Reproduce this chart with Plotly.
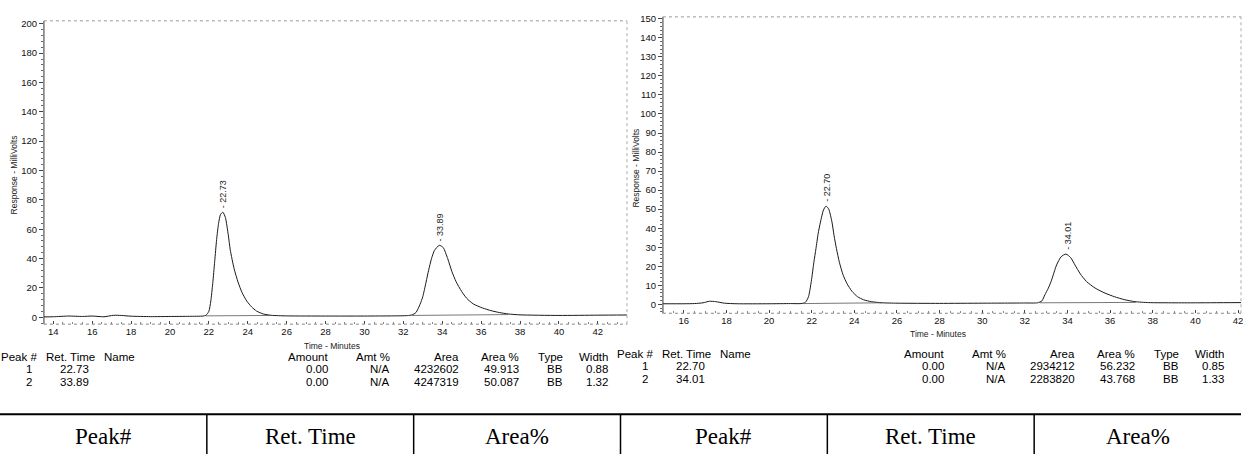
import plotly.graph_objects as go

W, H = 1243, 454

# ---------------- data: left chromatogram ----------------
left_time = [13.52, 14.0, 14.8, 15.5, 16.0, 16.6, 17.1, 17.5, 18.0, 19.0, 20.0, 21.0, 21.7,
             21.85, 22.0, 22.1, 22.2, 22.3, 22.4, 22.5, 22.6, 22.72, 22.85, 23.0, 23.1, 23.3,
             23.5, 23.7, 23.95, 24.2, 24.45, 24.8, 25.2, 26.0, 28.0, 30.0, 31.5, 32.2,
             32.45, 32.65, 32.86, 33.0, 33.17, 33.3, 33.45, 33.6, 33.85, 34.05, 34.28, 34.5,
             34.71, 35.0, 35.25, 35.6, 36.07, 36.5, 36.93, 37.4, 38.0, 40.0, 42.0, 43.5]
left_mv = [0.2, 0.3, 0.8, 0.5, 0.8, 0.3, 1.3, 1.2, 0.7, 0.4, 0.5, 0.6, 0.8,
           1.3, 4.0, 11.0, 23.0, 38.0, 53.0, 64.0, 70.0, 71.6, 68.0, 56.0, 46.0, 33.0,
           24.0, 17.0, 11.0, 7.0, 4.2, 2.2, 1.3, 0.9, 0.8, 0.8, 0.9, 1.1,
           1.6, 3.2, 8.8, 14.0, 24.0, 32.0, 40.0, 45.5, 49.0, 47.5, 40.0, 31.0,
           24.3, 17.5, 13.0, 9.0, 6.3, 4.5, 3.2, 2.2, 1.6, 1.2, 1.4, 1.5]
left_base_time = [[21.85, 25.2], [32.45, 37.4]]
left_base_mv = [[0.9, 1.2], [1.2, 1.8]]
left_peak_rt = [22.73, 33.89]
left_peak_h = [71.6, 49.0]
left_peak_label = ["22.73", "33.89"]

# ---------------- data: right chromatogram ----------------
right_time = [15.02, 16.0, 16.5, 16.9, 17.2, 17.5, 17.9, 18.5, 20.0, 21.0, 21.5,
              21.7, 21.85, 21.98, 22.1, 22.2, 22.3, 22.41, 22.55, 22.67, 22.8, 22.95, 23.05,
              23.16, 23.3, 23.47, 23.65, 23.89, 24.15, 24.43, 24.8, 25.3, 26.0, 28.0, 30.0,
              32.0, 32.6, 32.8, 32.94, 33.1, 33.23, 33.49, 33.7, 33.93, 34.15, 34.35, 34.6,
              34.89, 35.3, 35.76, 36.2, 36.69, 37.16, 37.8, 39.0, 40.0, 42.14]
right_mv = [0.3, 0.3, 0.4, 0.8, 1.6, 1.4, 0.6, 0.3, 0.3, 0.4, 0.4,
            1.0, 4.0, 12.0, 22.0, 29.3, 37.0, 43.2, 49.5, 51.6, 50.0, 43.2, 36.0,
            29.3, 22.0, 15.5, 11.0, 6.8, 4.0, 2.4, 1.4, 0.8, 0.6, 0.5, 0.6,
            0.7, 0.8, 1.8, 5.0, 8.5, 12.0, 20.7, 25.0, 26.4, 24.5, 20.7, 16.0,
            12.0, 8.5, 5.9, 4.0, 2.4, 1.4, 0.9, 0.8, 0.8, 0.9]
right_base_time = [[21.6, 25.3], [32.7, 37.2]]
right_base_mv = [[0.4, 0.8], [0.8, 1.0]]
right_peak_rt = [22.70, 34.01]
right_peak_h = [51.6, 26.4]
right_peak_label = ["22.70", "34.01"]

# ---------------- data: report tables ----------------
tbl_headers = ["Peak #", "Ret. Time", "Name", "Amount", "Amt %", "Area", "Area %", "Type", "Width"]
left_peak_no = ["1", "2"]
left_ret = ["22.73", "33.89"]
left_amount = ["0.00", "0.00"]
left_amt_pct = ["N/A", "N/A"]
left_area = ["4232602", "4247319"]
left_area_pct = ["49.913", "50.087"]
left_type = ["BB", "BB"]
left_width = ["0.88", "1.32"]

right_peak_no = ["1", "2"]
right_ret = ["22.70", "34.01"]
right_amount = ["0.00", "0.00"]
right_amt_pct = ["N/A", "N/A"]
right_area = ["2934212", "2283820"]
right_area_pct = ["56.232", "43.768"]
right_type = ["BB", "BB"]
right_width = ["0.85", "1.33"]

bottom_headers = ["Peak#", "Ret. Time", "Area%", "Peak#", "Ret. Time", "Area%"]

x_ticks_left = list(range(14, 44, 2))
x_ticks_right = list(range(16, 44, 2))
y_ticks_left = list(range(0, 201, 20))
y_ticks_right = list(range(0, 151, 10))

# ---------------- figure ----------------
def px(x):
    return x / W

def py(y):
    return 1 - y / H

fig = go.Figure()
LINE = "#1a1a1a"

fig.add_trace(go.Scatter(x=left_time, y=left_mv, mode="lines", xaxis="x", yaxis="y",
                         line=dict(color=LINE, width=1, shape="spline", smoothing=0.6),
                         showlegend=False, hoverinfo="skip"))
for bt, bm in zip(left_base_time, left_base_mv):
    fig.add_trace(go.Scatter(x=bt, y=bm, mode="lines", xaxis="x", yaxis="y",
                             line=dict(color="#555", width=0.8), showlegend=False, hoverinfo="skip"))
fig.add_trace(go.Scatter(x=right_time, y=right_mv, mode="lines", xaxis="x2", yaxis="y2",
                         line=dict(color=LINE, width=1, shape="spline", smoothing=0.6),
                         showlegend=False, hoverinfo="skip"))
for bt, bm in zip(right_base_time, right_base_mv):
    fig.add_trace(go.Scatter(x=bt, y=bm, mode="lines", xaxis="x2", yaxis="y2",
                             line=dict(color="#555", width=0.8), showlegend=False, hoverinfo="skip"))

tickfont = dict(family="Liberation Sans, Arial", size=9.5, color="#111")
axis_common = dict(showgrid=False, zeroline=False, showline=False, tickfont=tickfont,
                   tickwidth=1, tickcolor="#444", ticklabeloverflow="allow")

fig.update_layout(
    width=W, height=H, margin=dict(l=0, r=0, t=0, b=0),
    paper_bgcolor="white", plot_bgcolor="white", showlegend=False,
    xaxis=dict(domain=[px(44), px(628)], range=[13.52, 43.5], anchor="y",
               tickvals=x_ticks_left, ticks="inside", ticklen=3,
               minor=dict(dtick=0.5, ticks="inside", ticklen=2, tickcolor="#888"),
               **axis_common),
    yaxis=dict(domain=[py(323), py(17)], range=[-4.73, 202.0], anchor="x",
               tickvals=y_ticks_left, ticks="outside", ticklen=4,
               minor=dict(dtick=4, ticks="outside", ticklen=2, tickcolor="#666"),
               **axis_common),
    xaxis2=dict(domain=[px(664), px(1243)], range=[15.02, 42.14], anchor="y2",
                tickvals=x_ticks_right, ticks="inside", ticklen=3,
                minor=dict(dtick=0.5, ticks="inside", ticklen=2, tickcolor="#888"),
                **axis_common),
    yaxis2=dict(domain=[py(312), py(13)], range=[-4.69, 151.0], anchor="x2",
                tickvals=y_ticks_right, ticks="outside", ticklen=4,
                minor=dict(dtick=2, ticks="outside", ticklen=2, tickcolor="#666"),
                **axis_common),
)

shapes = []
for xr, yr in (("x", "y"), ("x2", "y2")):
    xd, yd = xr + " domain", yr + " domain"
    shapes.append(dict(type="line", xref=xd, yref=yd, x0=0, x1=0, y0=0, y1=1,
                       line=dict(color="#333", width=1)))
    shapes.append(dict(type="line", xref=xd, yref=yd, x0=0, x1=1, y0=1, y1=1,
                       line=dict(color="#999", width=1, dash="dot")))
    shapes.append(dict(type="line", xref=xd, yref=yd, x0=1, x1=1, y0=0, y1=1,
                       line=dict(color="#aaa", width=1, dash="dot")))
    shapes.append(dict(type="line", xref=xd, yref=yd, x0=0, x1=1, y0=0, y1=0,
                       line=dict(color="#888", width=1, dash="dot")))

shapes.append(dict(type="line", xref="paper", yref="paper", x0=0, x1=1, y0=py(414), y1=py(414),
                   line=dict(color="black", width=2)))
n_cells = len(bottom_headers)
for i in range(1, n_cells):
    xx = i / n_cells
    shapes.append(dict(type="line", xref="paper", yref="paper", x0=xx, x1=xx, y0=py(414), y1=0,
                       line=dict(color="black", width=1.5)))
fig.update_layout(shapes=shapes)

ann = []
atf = dict(family="Liberation Sans, Arial", size=8.5, color="#222")
ann.append(dict(text="Response - MilliVolts", xref="paper", yref="paper", x=px(15), y=py(172),
                xanchor="center", yanchor="middle", textangle=-90, showarrow=False, font=atf))
ann.append(dict(text="Response - MilliVolts", xref="paper", yref="paper", x=px(637), y=py(165),
                xanchor="center", yanchor="middle", textangle=-90, showarrow=False, font=atf))
ann.append(dict(text="Time - Minutes", xref="paper", yref="paper", x=px(333), y=py(345),
                xanchor="center", yanchor="middle", showarrow=False, font=atf))
ann.append(dict(text="Time - Minutes", xref="paper", yref="paper", x=px(940), y=py(333),
                xanchor="center", yanchor="middle", showarrow=False, font=atf))

plf = dict(family="Liberation Sans, Arial", size=9, color="#222")
for rt, h, lab in zip(left_peak_rt, left_peak_h, left_peak_label):
    ann.append(dict(text="- " + lab, x=rt, y=h, xref="x", yref="y", textangle=-90,
                    showarrow=False, yanchor="bottom", xanchor="center", yshift=2, font=plf))
for rt, h, lab in zip(right_peak_rt, right_peak_h, right_peak_label):
    ann.append(dict(text="- " + lab, x=rt, y=h, xref="x2", yref="y2", textangle=-90,
                    showarrow=False, yanchor="bottom", xanchor="center", yshift=2, font=plf))

tf = dict(family="Liberation Sans, Arial", size=11.5, color="black")

def add_report(x_offset, y_head, dy, peak_no, ret, amount, amt_pct, area, area_pct, typ, width):
    head_pos = [(39, "right"), (44, "left"), (102, "left"), (331, "right"), (393, "right"),
                (462, "right"), (522, "right"), (566, "right"), (611, "right")]
    for txt, (x, a) in zip(tbl_headers, head_pos):
        ann.append(dict(text=txt, xref="paper", yref="paper", x=px(x + x_offset), y=py(y_head),
                        xanchor=a, yanchor="middle", showarrow=False, font=tf))
    cols = [(peak_no, 34), (ret, 91), (amount, 331), (amt_pct, 393), (area, 462),
            (area_pct, 522), (typ, 566), (width, 611)]
    for r in range(len(peak_no)):
        yy = y_head + dy * (r + 1)
        for vals, x in cols:
            ann.append(dict(text=vals[r], xref="paper", yref="paper", x=px(x + x_offset), y=py(yy),
                            xanchor="right", yanchor="middle", showarrow=False, font=tf))

add_report(0, 356, 12.5, left_peak_no, left_ret, left_amount, left_amt_pct, left_area,
           left_area_pct, left_type, left_width)
add_report(617, 353, 12.5, right_peak_no, right_ret, right_amount, right_amt_pct, right_area,
           right_area_pct, right_type, right_width)

bf = dict(family="Liberation Serif, Times New Roman", size=23, color="black")
for i, txt in enumerate(bottom_headers):
    ann.append(dict(text=txt, xref="paper", yref="paper", x=(i + 0.5) / n_cells, y=py(436),
                    xanchor="center", yanchor="middle", showarrow=False, font=bf))

fig.update_layout(annotations=ann)
fig.write_html("out.html")
